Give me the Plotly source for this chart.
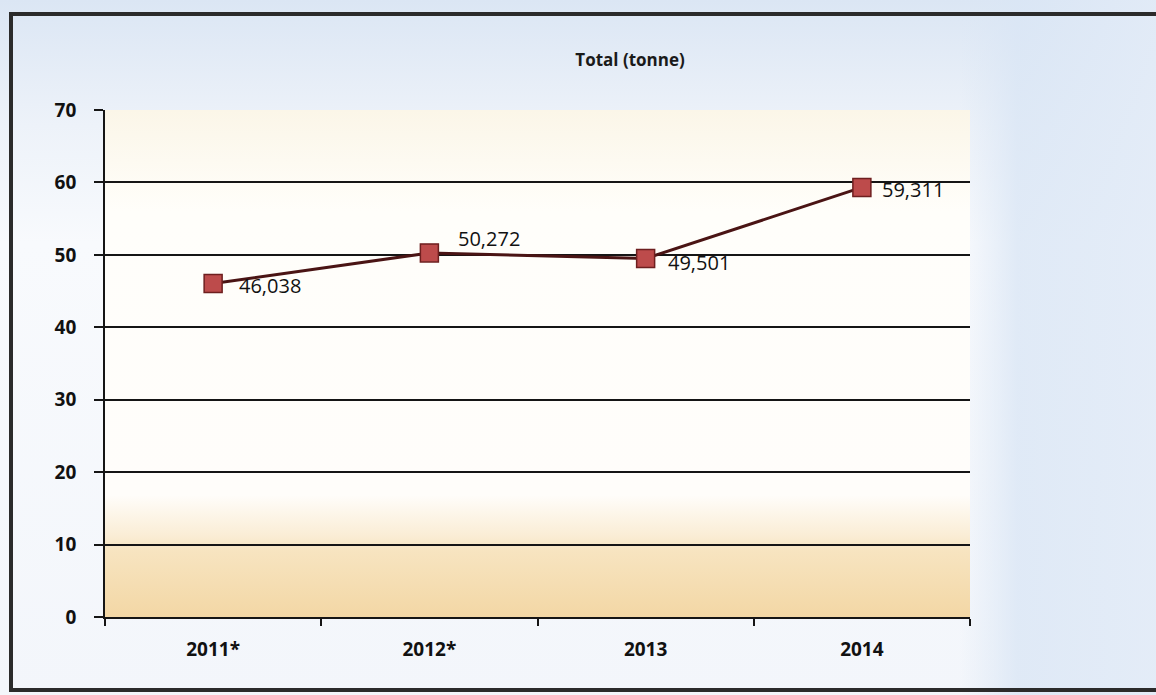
import base64
import plotly.graph_objects as go

# data
years = ["2011*", "2012*", "2013", "2014"]
totals = [46038, 50272, 49501, 59311]  # tonne

# label offsets (px) from each marker
label_dx = [24, 27, 20, 18]
label_dy = [-2, 14, -4, -2]

W, H = 1156, 695
L, R, T, B = 105, 186, 110, 78

# background: photo-like frame + plot area gradient drawn as an svg image
pw, ph = W - L - R, H - T - B
svg = f"""<svg xmlns='http://www.w3.org/2000/svg' width='{W}' height='{H}' viewBox='0 0 {W} {H}' preserveAspectRatio='none'>
<defs>
<linearGradient id='pg' x1='0' y1='0' x2='0' y2='1'>
<stop offset='0' stop-color='#dbe6f4'/><stop offset='0.18' stop-color='#edf2f9'/>
<stop offset='0.35' stop-color='#f8fafd'/><stop offset='1' stop-color='#f3f6fb'/></linearGradient>
<linearGradient id='rg' x1='0' y1='0' x2='1' y2='0'>
<stop offset='0' stop-color='#dce7f5' stop-opacity='0'/><stop offset='0.83' stop-color='#dce7f5' stop-opacity='0'/>
<stop offset='0.88' stop-color='#dae6f5' stop-opacity='0.8'/><stop offset='1' stop-color='#e2ebf7' stop-opacity='0.9'/></linearGradient>
<linearGradient id='ag' x1='0' y1='0' x2='0' y2='1'>
<stop offset='0' stop-color='#fbf6e8'/><stop offset='0.2' stop-color='#fffefa'/>
<stop offset='0.76' stop-color='#fffdfa'/><stop offset='0.84' stop-color='#faedd5'/>
<stop offset='0.87' stop-color='#f7e4c0'/><stop offset='1' stop-color='#f3d7a5'/></linearGradient>
</defs>
<rect x='0' y='0' width='{W}' height='{H}' fill='url(#pg)'/>
<rect x='0' y='0' width='{W}' height='{H}' fill='url(#rg)'/>
<rect x='{L}' y='{T}' width='{pw}' height='{ph}' fill='url(#ag)'/>
<rect x='11' y='14' width='1170' height='676' fill='none' stroke='#2b2b2b' stroke-width='4'/>
</svg>"""
bg_src = "data:image/svg+xml;base64," + base64.b64encode(svg.encode()).decode()

ys = [v / 1000 for v in totals]

fig = go.Figure()
fig.add_trace(go.Scatter(
    x=years, y=ys,
    mode="lines+markers",
    line=dict(color="#4a1414", width=3),
    marker=dict(symbol="square", size=18, color="#bd4b4b",
                line=dict(color="#6e1f1f", width=1.5)),
    showlegend=False, cliponaxis=False,
))

# data labels (category axis -> position by index)
for i, (y, v, dx, dy) in enumerate(zip(ys, totals, label_dx, label_dy)):
    fig.add_annotation(x=i, y=y, text=f"{v:,}", showarrow=False,
                       xanchor="left", yanchor="middle", xshift=dx, yshift=dy,
                       font=dict(family="Open Sans", size=20, color="#111111"))

fig.update_layout(
    width=W, height=H,
    margin=dict(l=L, r=R, t=T, b=B),
    paper_bgcolor="white",
    plot_bgcolor="rgba(0,0,0,0)",
    font=dict(family="Open Sans", color="#111111"),
    title=dict(text="<b>Total (tonne)</b>", x=(630 - L) / pw, xref="paper",
               xanchor="center", y=1 - 60 / H, yanchor="middle",
               font=dict(size=17, color="#1a1a1a")),
    images=[dict(source=bg_src, xref="paper", yref="paper",
                 x=-L / pw, y=1 + T / ph, sizex=W / pw, sizey=H / ph,
                 xanchor="left", yanchor="top", sizing="stretch",
                 layer="below")],
)
fig.update_yaxes(range=[0, 70], dtick=10, showgrid=True, gridcolor="#151515",
                 gridwidth=1.8, showline=True, linecolor="#151515", linewidth=1.8,
                 ticks="outside", ticklen=9, tickcolor="#151515", tickwidth=1.8,
                 zeroline=False, tickfont=dict(size=19, color="#111111", weight="bold"),
                 ticklabelstandoff=14)
fig.update_xaxes(type="category", range=[-0.5, len(years) - 0.5],
                 showgrid=False, showline=True, linecolor="#151515",
                 linewidth=1.8, ticks="outside", tickson="boundaries", ticklen=7,
                 tickcolor="#151515", tickwidth=1.8,
                 tickfont=dict(size=19, color="#111111", weight="bold"),
                 ticklabelstandoff=14)

fig.write_html("out.html", config={"displayModeBar": False},
               post_script="document.body.style.margin='0';")
